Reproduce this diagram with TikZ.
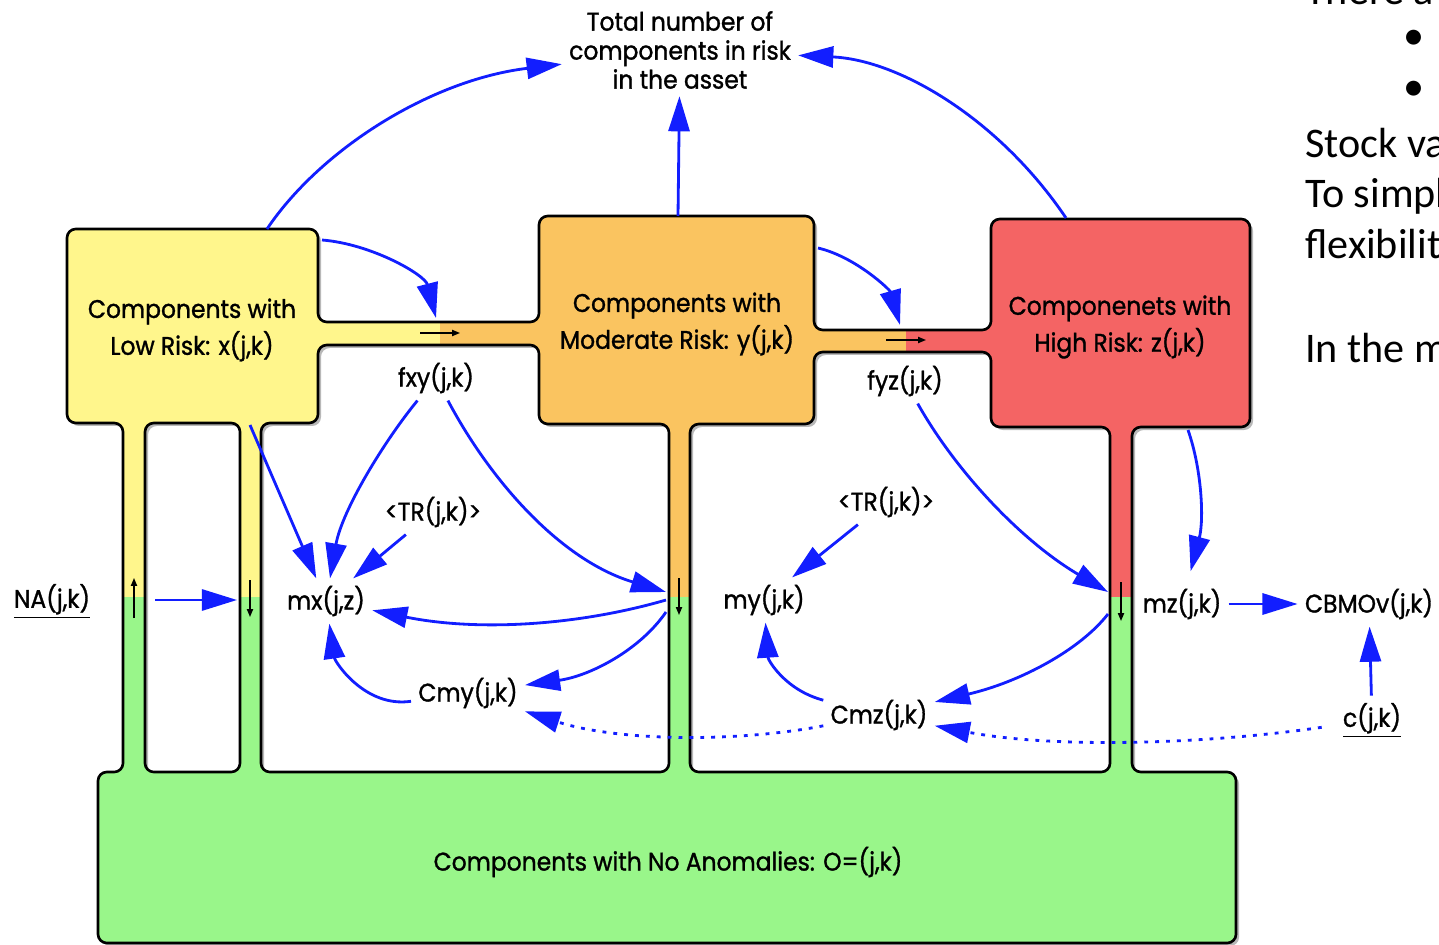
\documentclass[tikz,border=0pt]{standalone}
\usepackage{fontspec}
\setmainfont{Poppins}[FakeStretch=0.92,FakeBold=1.2]
\newfontfamily\slidefont{Carlito}
\usetikzlibrary{arrows.meta,positioning}

\definecolor{lowrisk}{RGB}{255,246,140}
\definecolor{modrisk}{RGB}{250,196,96}
\definecolor{highrisk}{RGB}{244,100,100}
\definecolor{noanom}{RGB}{153,246,138}
\definecolor{flowblue}{RGB}{18,30,255}

% outline of the stocks and pipes, and the gaps between the pipes
\newcommand{\pipeouter}{(67,229) -- (318,229) -- (318,322) -- (539,322) -- (539,216) -- (814,216)
  -- (814,330) -- (991,330) -- (991,219) -- (1250,219) -- (1250,427) -- (1132,427) -- (1132,772)
  -- (1236,772) -- (1236,943) -- (98,943) -- (98,772) -- (123,772) -- (123,423) -- (67,423) -- cycle}
\newcommand{\lowgap}{(145,423) rectangle (240,772)}
\newcommand{\midgap}{(261,423) -- (318,423) -- (318,345) -- (539,345) -- (539,424) -- (669,424)
  -- (669,772) -- (261,772) -- cycle}
\newcommand{\highgap}{(690,424) -- (814,424) -- (814,352) -- (991,352) -- (991,427) -- (1110,427)
  -- (1110,772) -- (690,772) -- cycle}

\begin{document}
\begin{tikzpicture}[x=0.02cm,y=-0.02cm,>={Triangle[length=20pt,width=12pt]},
	flow/.style={->,draw=flowblue,line width=1.6pt},
	dotflow/.style={flow,dash pattern=on 2.2pt off 4pt},
	valve/.style={-{Triangle[length=4.5pt,width=3.5pt]},line width=0.8pt},
	outline/.style={draw=black,line width=1.5pt,rounded corners=5pt},
	word/.style={font=\fontsize{14.5}{16.5}\selectfont,inner sep=4pt,align=center},
	stock/.style={word,font=\fontsize{14.5}{21}\selectfont},
	slide/.style={font=\slidefont\fontsize{24}{29}\selectfont,anchor=base west,inner sep=0pt}]

	\useasboundingbox (0,0) rectangle (1439,945);
	\clip (0,0) rectangle (1439,945);

	% stocks and pipes, with their shadow
	\fill[black!28,even odd rule,rounded corners=5pt,shift={(3,3)}] \pipeouter \lowgap \midgap \highgap;
	\begin{scope}[even odd rule]
		\clip[rounded corners=5pt] \pipeouter \lowgap \midgap \highgap;
		\fill[lowrisk] (0,0) rectangle (440,597);
		\fill[modrisk] (440,0) rectangle (906,597);
		\fill[highrisk] (906,0) rectangle (1439,597);
		\fill[noanom] (0,597) rectangle (1439,945);
	\end{scope}
	\draw[outline] \pipeouter;
	\draw[outline] \lowgap;
	\draw[outline] \midgap;
	\draw[outline] \highgap;

	\node[stock] (low) at (192,330) {Components with\\Low Risk: x(j,k)};
	\node[stock] (mod) at (677,324) {Components with\\Moderate Risk: y(j,k)};
	\node[stock] (high) at (1120,327) {Componenets with\\High Risk: z(j,k)};
	\node[stock] (none) at (668,862) {Components with No Anomalies: O=(j,k)};
	\node[word] (total) at (680,50) {Total number of\\components in risk\\in the asset};

	% valves
	\coordinate (vxy) at (440,333);
	\coordinate (vyz) at (906,340);
	\coordinate (vna) at (134,598);
	\coordinate (vx) at (250,599);
	\coordinate (vy) at (679,597);
	\coordinate (vz) at (1121,601);
	\draw[valve] (vxy) +(-20,0) -- +(20,0);
	\draw[valve] (vyz) +(-20,0) -- +(20,0);
	\draw[valve] (vna) +(0,20) -- +(0,-20);
	\draw[valve] (vx) +(0,-19) -- +(0,18);
	\draw[valve] (vy) +(0,-19) -- +(0,18);
	\draw[valve] (vz) +(0,-19) -- +(0,20);

	% auxiliaries
	\node[word] (fxy) at (436,378) {fxy(j,k)};
	\node[word] (fyz) at (905,381) {fyz(j,k)};
	\node[word] (trx) at (433,512) {<TR(j,k)>};
	\node[word] (try) at (886,502) {<TR(j,k)>};
	\node[word] (na) at (52,601) {\underline{NA(j,k)}};
	\node[word] (mx) at (326,601) {mx(j,z)};
	\node[word] (my) at (764,600) {my(j,k)};
	\node[word] (mz) at (1182,604) {mz(j,k)};
	\node[word] (cbm) at (1369,604) {CBMOv(j,k)};
	\node[word] (cmy) at (468,693) {Cmy(j,k)};
	\node[word] (cmz) at (879,715) {Cmz(j,k)};
	\node[word] (cost) at (1372,720) {\underline{c(j,k)}};

	\coordinate (lowtop) at (267,229);
	\coordinate (lowcorner) at (322,240);
	\coordinate (lowfoot) at (250,425);
	\coordinate (modtop) at (678,216);
	\coordinate (modcorner) at (818,248);
	\coordinate (hightop) at (1066,218);
	\coordinate (highfoot) at (1188,430);
	\coordinate (xyin) at (436,318);
	\coordinate (yzin) at (900,325);
	\coordinate (naout) at (155,600);
	\coordinate (xin) at (237,600);
	\coordinate (yin) at (666,592);
	\coordinate (yout) at (666,600);
	\coordinate (youtb) at (666,612);
	\coordinate (zin) at (1108,592);
	\coordinate (zout) at (1108,614);

	% flows
	\draw[flow] (lowtop) .. controls (320,150) and (430,80) .. (total);
	\draw[flow] (modtop) -- (total);
	\draw[flow] (hightop) .. controls (1000,120) and (900,60) .. (total);
	\draw[flow] (lowcorner) .. controls (372,244) and (425,275) .. (xyin);
	\draw[flow] (modcorner) .. controls (856,257) and (890,290) .. (yzin);
	\draw[flow] (fxy) .. controls (385,440) and (342,510) .. (mx);
	\draw[flow] (fxy) .. controls (490,480) and (560,560) .. (yin);
	\draw[flow] (trx) -- (mx);
	\draw[flow] (lowfoot) -- (mx);
	\draw[flow] (naout) -- (xin);
	\draw[flow] (yout) .. controls (580,625) and (480,632) .. (mx);
	\draw[flow] (youtb) .. controls (640,650) and (590,676) .. (cmy);
	\draw[flow] (cmy) .. controls (365,708) and (335,662) .. (mx);
	\draw[flow] (fyz) .. controls (955,470) and (1020,540) .. (zin);
	\draw[flow] (try) -- (my);
	\draw[flow] (cmz) .. controls (785,690) and (768,660) .. (my);
	\draw[flow] (zout) .. controls (1080,650) and (1020,682) .. (cmz);
	\draw[flow,shorten >=6pt] (highfoot) .. controls (1202,470) and (1204,520) .. (mz);
	\draw[flow] (mz) -- (cbm);
	\draw[flow] (cost) -- (cbm);
	\draw[dotflow,shorten <=8pt] (cost) .. controls (1200,745) and (1050,748) .. (cmz);
	\draw[dotflow] (cmz) .. controls (740,742) and (620,742) .. (cmy);

	% slide text beside the diagram
	\node[slide] (there) at (1305,5) {There a};
	\node[slide] (dota) at (1403,50) {•};
	\node[slide] (dotb) at (1403,101) {•};
	\node[slide] (stockvar) at (1305,158) {Stock va};
	\node[slide] (simpl) at (1305,208) {To simpl};
	\node[slide] (flexi) at (1305,259) {flexibilit};
	\node[slide] (model) at (1305,363) {In the m};
\end{tikzpicture}
\end{document}
